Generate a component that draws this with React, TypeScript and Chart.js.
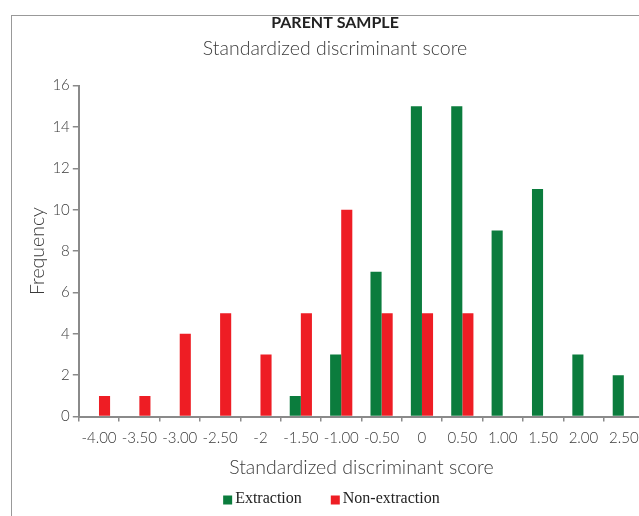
import React, { useEffect, useRef } from "react";
import { Chart, registerables } from "chart.js";

Chart.register(...registerables);

const categories = ["-4.00", "-3.50", "-3.00", "-2.50", "-2", "-1.50", "-1.00", "-0.50", "0", "0.50", "1.00", "1.50", "2.00", "2.50"];
const extraction = [0, 0, 0, 0, 0, 1, 3, 7, 15, 15, 9, 11, 3, 2];
const nonExtraction = [1, 1, 4, 5, 3, 5, 10, 5, 5, 5, 0, 0, 0, 0];

const GREEN = "#0b7c3d";
const RED = "#ee1d24";
const AXIS = "#8a8a8a";
const TEXT = "#3a3a3a";
const SANS = "Lato, 'Open Sans', sans-serif";
const SERIF = "'Liberation Serif', 'Times New Roman', serif";

// Legend drawn below the axis title, with the reference's spacing
const bottomLegend = {
  id: "bottomLegend",
  afterDraw(chart: any) {
    const ctx = chart.ctx;
    const items = chart.data.datasets.map((d: any) => ({ text: d.label, color: d.backgroundColor }));
    ctx.save();
    ctx.font = `16px ${SERIF}`;
    const box = 9;
    const gapBox = 3;
    const gapItem = 29;
    const widths = items.map((it: any) => box + gapBox + ctx.measureText(it.text).width);
    const total = widths.reduce((a: number, b: number) => a + b, 0) + gapItem * (items.length - 1);
    const centerX = chart.chartArea.left + (chart.chartArea.right - chart.chartArea.left) / 2 - 30;
    const cy = chart.height - 17;
    let x = centerX - total / 2;
    items.forEach((it: any, i: number) => {
      ctx.fillStyle = it.color;
      ctx.fillRect(x, cy - box / 2 + 1, box, box);
      ctx.fillStyle = "#222";
      ctx.textBaseline = "middle";
      ctx.textAlign = "left";
      ctx.fillText(it.text, x + box + gapBox, cy);
      x += widths[i] + gapItem;
    });
    ctx.restore();
  },
};

export default function App() {
  const ref = useRef<HTMLCanvasElement | null>(null);

  useEffect(() => {
    if (!ref.current) return;
    const chart = new Chart(ref.current, {
      type: "bar",
      data: {
        labels: categories,
        datasets: [
          { label: "Extraction", data: extraction, backgroundColor: GREEN, borderWidth: 0, categoryPercentage: 0.55, barPercentage: 1 },
          { label: "Non-extraction", data: nonExtraction, backgroundColor: RED, borderWidth: 0, categoryPercentage: 0.55, barPercentage: 1 },
        ],
      },
      options: {
        animation: false,
        responsive: true,
        maintainAspectRatio: false,
        layout: { padding: { left: 26, right: 20, top: 0, bottom: 32 } },
        plugins: {
          title: {
            display: true,
            text: "PARENT SAMPLE",
            color: "#222",
            font: { family: SANS, size: 16, weight: "bold" },
            padding: { top: 13, bottom: 5 },
          },
          subtitle: {
            display: true,
            text: "Standardized discriminant score",
            color: TEXT,
            font: { family: SANS, size: 19.5, weight: "300" },
            padding: { top: 0, bottom: 25 },
          },
          legend: { display: false },
          tooltip: { enabled: false },
        },
        scales: {
          x: {
            grid: { display: true, drawOnChartArea: false, drawTicks: true, tickLength: 5, color: AXIS, lineWidth: 1.5 },
            border: { display: true, color: AXIS, width: 2 },
            ticks: { color: TEXT, font: { family: SANS, size: 15, weight: "300" }, padding: 8, maxRotation: 0, autoSkip: false },
            title: {
              display: true,
              text: "Standardized discriminant score",
              color: TEXT,
              font: { family: SANS, size: 19.5, weight: "300" },
              padding: { top: 0, bottom: 5 },
            },
          },
          y: {
            min: 0,
            max: 16,
            grid: { display: true, drawOnChartArea: false, drawTicks: true, tickLength: 6, color: AXIS, lineWidth: 1.5 },
            border: { display: true, color: AXIS, width: 2 },
            ticks: { stepSize: 2, color: TEXT, font: { family: SANS, size: 15, weight: "300" }, padding: 3 },
            title: {
              display: true,
              text: "Frequency",
              color: TEXT,
              font: { family: SANS, size: 19.5, weight: "300" },
              padding: { top: 0, bottom: 0 },
            },
          },
        },
      },
      plugins: [bottomLegend],
    });
    return () => chart.destroy();
  }, []);

  return (
    <div style={{ position: "fixed", left: 0, top: 0, width: 639, height: 516, overflow: "hidden", background: "#fff" }}>
      <div style={{ position: "absolute", left: 11, top: 15, width: 700, height: 600, borderTop: "1.5px solid #999", borderLeft: "1.5px solid #999" }} />
      <div style={{ position: "absolute", left: 0, top: 0, width: 664, height: 516 }}>
        <canvas ref={ref} />
      </div>
    </div>
  );
}
